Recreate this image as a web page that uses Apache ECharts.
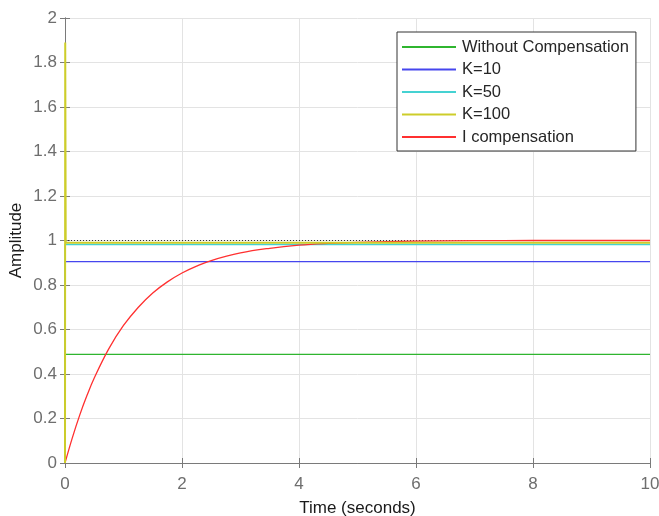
<!DOCTYPE html>
<html>
<head>
<meta charset="utf-8">
<script src="https://cdn.jsdelivr.net/npm/echarts@6/dist/echarts.min.js"></script>
<style>
  html, body { margin: 0; padding: 0; background: #fff; }
  #stepChart { width: 659px; height: 516px; }
</style>
</head>
<body>
<div id="stepChart"></div>
<script>
// step responses
const noCompTime = [0, 0, 10];
const noCompValue = [0, 0.488, 0.488];
const k10Time = [0, 0, 10];
const k10Value = [0, 0.905, 0.905];
const k50Time = [0, 0, 10];
const k50Value = [0, 0.982, 0.982];
const k100Time = [0, 0.004, 0.012, 10];
const k100Value = [0, 1.89, 0.99, 0.99];
const iCompTime = [0, 0.125, 0.25, 0.375, 0.5, 0.75, 1, 1.25, 1.5, 1.75, 2, 2.25, 2.5, 3, 3.5, 4, 4.5, 5, 6, 7, 8, 10];
const iCompValue = [0, 0.113, 0.214, 0.303, 0.382, 0.514, 0.618, 0.699, 0.764, 0.814, 0.854, 0.885, 0.91, 0.944, 0.965, 0.979, 0.987, 0.992, 0.997, 0.999, 1.0, 1.0];
const steadyTime = [0, 10];
const steadyValue = [1, 1];
const xTicks = [0, 2, 4, 6, 8, 10];
const yTicks = [0, 0.2, 0.4, 0.6, 0.8, 1, 1.2, 1.4, 1.6, 1.8, 2];

function pairs(ts, vs) {
  return ts.map(function (t, i) { return [t, vs[i]]; });
}

let stepChart = echarts.init(document.getElementById('stepChart'));

let axisLine = { show: true, lineStyle: { color: '#7a7a7a', width: 1 } };
let gridLine = { show: true, lineStyle: { color: '#e3e3e3', width: 1 } };
let labelStyle = { color: '#6e6e6e', fontSize: 17, fontFamily: 'Liberation Sans, Arial, sans-serif' };
let nameStyle = { color: '#1a1a1a', fontSize: 17, fontFamily: 'Liberation Sans, Arial, sans-serif' };

let lineSeries = function (name, color, data, z, smooth, width) {
  return {
    name: name,
    type: 'line',
    data: data,
    showSymbol: false,
    symbol: 'none',
    smooth: smooth || false,
    animation: false,
    z: z,
    lineStyle: { color: color, width: width || 1.3 },
    itemStyle: { color: color }
  };
};

let stepOption = {
  animation: false,
  grid: { left: 65, right: 9, top: 18, bottom: 53, containLabel: false, outerBoundsMode: 'none' },
  legend: {
    orient: 'vertical',
    left: 397,
    top: 32,
    width: 239,
    padding: [6, 7, 5, 5],
    backgroundColor: '#fff',
    borderColor: '#333',
    borderWidth: 1,
    icon: 'rect',
    itemWidth: 54,
    itemHeight: 2,
    itemGap: 4.5,
    textStyle: { color: '#262626', fontSize: 16.5, lineHeight: 18, fontFamily: 'Liberation Sans, Arial, sans-serif', padding: [0, 0, 0, 1] },
    data: ['Without Compensation', 'K=10', 'K=50', 'K=100', 'I compensation']
  },
  xAxis: [
    {
      type: 'value',
      min: 0, max: 10, interval: 2,
      name: 'Time (seconds)',
      nameLocation: 'middle',
      nameGap: 37,
      nameMoveOverlap: false,
      nameTextStyle: nameStyle,
      axisLine: axisLine,
      axisTick: { show: true, inside: true, length: 5, lineStyle: { color: '#7a7a7a' } },
      axisLabel: Object.assign({ margin: 13, formatter: function (v) { return xTicks.indexOf(v) >= 0 ? String(v) : ''; } }, labelStyle),
      splitLine: gridLine
    },
    {
      type: 'value', position: 'top',
      min: 0, max: 10, interval: 2,
      axisLine: axisLine,
      axisTick: { show: true, inside: true, length: 5, lineStyle: { color: '#7a7a7a' } },
      axisLabel: { show: false },
      splitLine: { show: false }
    }
  ],
  yAxis: [
    {
      type: 'value',
      min: 0, max: 2, interval: 0.2,
      name: 'Amplitude',
      nameLocation: 'middle',
      nameGap: 40,
      nameMoveOverlap: false,
      nameTextStyle: nameStyle,
      axisLine: axisLine,
      axisTick: { show: true, inside: true, length: 5, lineStyle: { color: '#7a7a7a' } },
      axisLabel: Object.assign({ margin: 8, formatter: function (v) {
        let r = Math.round(v * 10) / 10;
        return yTicks.indexOf(r) >= 0 ? String(r) : '';
      } }, labelStyle),
      splitLine: gridLine
    },
    {
      type: 'value', position: 'right',
      min: 0, max: 2, interval: 0.2,
      axisLine: axisLine,
      axisTick: { show: true, inside: true, length: 5, lineStyle: { color: '#7a7a7a' } },
      axisLabel: { show: false },
      splitLine: { show: false }
    }
  ],
  series: [
    {
      name: 'steady',
      type: 'line',
      data: pairs(steadyTime, steadyValue),
      symbol: 'none',
      z: 1,
      lineStyle: { color: '#333', width: 1, type: [1, 2] }
    },
    lineSeries('Without Compensation', '#2fb52f', pairs(noCompTime, noCompValue), 2),
    lineSeries('K=10', '#4646ee', pairs(k10Time, k10Value), 3),
    lineSeries('K=50', '#45d2d2', pairs(k50Time, k50Value), 4),
    lineSeries('I compensation', '#ff3030', pairs(iCompTime, iCompValue), 5, 0.4),
    lineSeries('K=100', '#cdcd2a', pairs(k100Time, k100Value), 6, false, 2)
  ]
};

stepChart.setOption(stepOption);
</script>
</body>
</html>
